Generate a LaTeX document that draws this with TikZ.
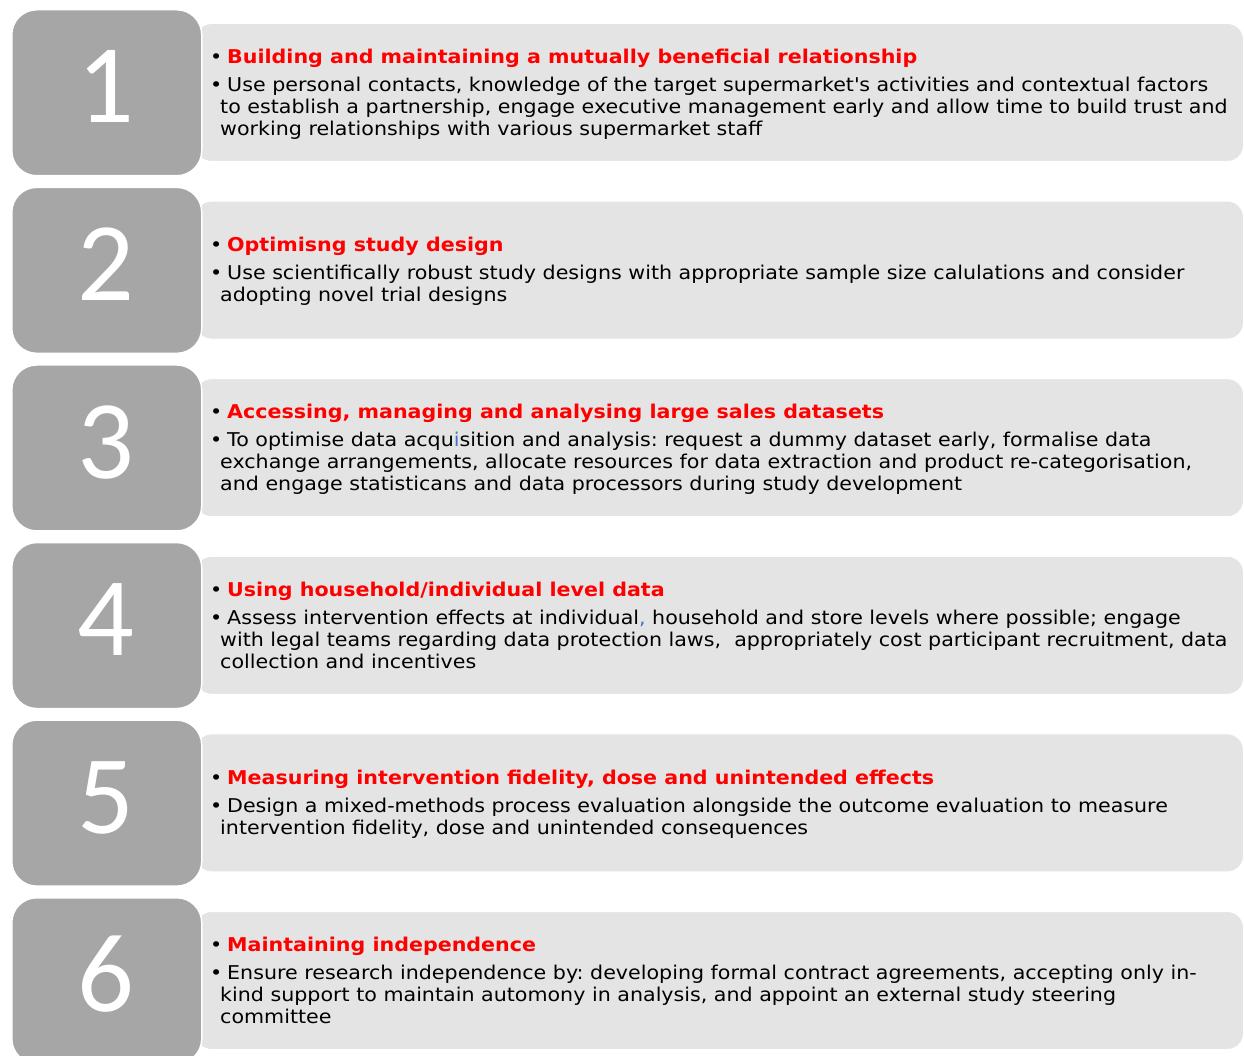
\documentclass[tikz,border=0pt]{standalone}
\usepackage{fontspec}
\setmainfont[FakeStretch=1.085]{DejaVu Sans}
\newfontfamily\numfont{Carlito}
\definecolor{numgray}{HTML}{A6A6A6}
\definecolor{panelgray}{HTML}{E4E4E4}
\definecolor{titlered}{HTML}{FF0000}
\definecolor{accentblue}{HTML}{4472C4}
\frenchspacing
\newcommand\bul{\makebox[17pt][l]{\textbullet}}
\newcommand\cont{\hspace*{10pt}}
\tikzset{
  numbox/.style={fill=numgray, draw=white, line width=1.5pt, rounded corners=25pt, inner sep=0pt},
  panel/.style={fill=panelgray, draw=white, line width=1pt, rounded corners=16pt, inner sep=0pt},
  numtext/.style={font=\numfont\fontsize{112}{112}\selectfont, text=white, inner sep=0pt, anchor=base},
  bodytext/.style={font=\fontsize{19}{22}\selectfont, align=left, anchor=north west, inner sep=0pt, text=black},
}
\newcommand\planrow[5]{%
  \node[panel, anchor=north west, minimum width=1048pt, minimum height=138pt] (panel#1) at (195,#2+14) {};
  \node[numbox, anchor=north west, minimum width=190pt, minimum height=166pt] (box#1) at (11,#2) {};
  \node[numtext] (num#1) at (106,#2+114) {#1};
  \node[bodytext] (text#1) at (210,#2+#3-15) {\rule{0pt}{15pt}\bul\textcolor{titlered}{\bfseries #4}\\[6pt]#5};
}
\begin{document}
\begin{tikzpicture}[x=1pt,y=-1pt]
\useasboundingbox[fill=white] (0,0) rectangle (1244,1056);
\planrow{1}{9}{54}{Building and maintaining a mutually beneficial relationship}{%
\bul Use personal contacts, knowledge of the target supermarket\textquotesingle s activities and contextual factors\\
\cont to establish a partnership, engage executive management early and allow time to build trust and\\
\cont working relationships with various supermarket staff}
\planrow{2}{186.6}{65}{Optimisng study design}{%
\bul Use scientifically robust study designs with appropriate sample size calulations and consider\\
\cont adopting novel trial designs}
\planrow{3}{364.2}{54}{Accessing, managing and analysing large sales datasets}{%
\bul To optimise data acqu\textcolor{accentblue}{i}sition and analysis: request a dummy dataset early, formalise data\\
\cont exchange arrangements, allocate resources for data extraction and product re-categorisation,\\
\cont and engage statisticans and data processors during study development}
\planrow{4}{541.8}{54}{Using household/individual level data}{%
\bul Assess intervention effects at individual\textcolor{accentblue}{,} household and store levels where possible; engage\\
\cont with legal teams regarding data protection laws,\ \ appropriately cost participant recruitment, data\\
\cont collection and incentives}
\planrow{5}{719.4}{65}{Measuring intervention fidelity, dose and unintended effects}{%
\bul Design a mixed-methods process evaluation alongside the outcome evaluation to measure\\
\cont intervention fidelity, dose and unintended consequences}
\planrow{6}{897}{54}{Maintaining independence}{%
\bul Ensure research independence by: developing formal contract agreements, accepting only in-\\
\cont kind support to maintain automony in analysis, and appoint an external study steering\\
\cont committee}
\end{tikzpicture}
\end{document}
